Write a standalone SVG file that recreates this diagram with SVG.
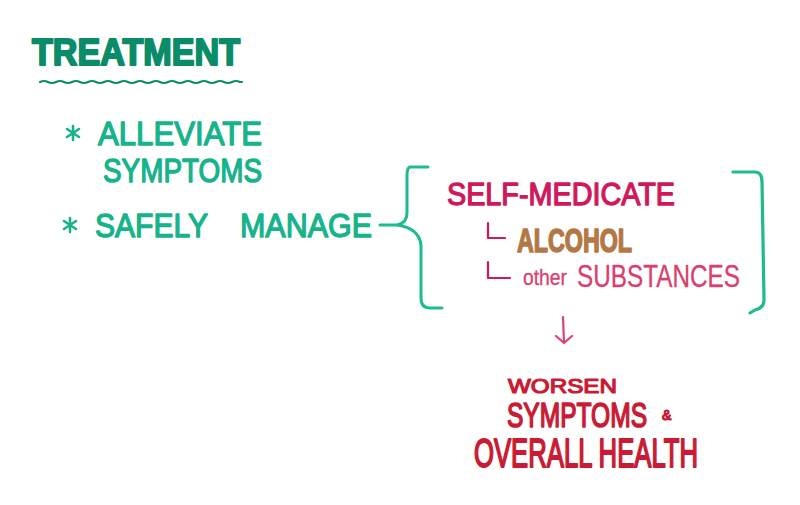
<svg xmlns="http://www.w3.org/2000/svg" width="800" height="505" viewBox="0 0 800 505">
<style>
text{font-family:"Liberation Sans","Arial",sans-serif;stroke-linejoin:round;}
.dg{fill:#0b8c68;stroke:#0b8c68;stroke-width:2;font-weight:700;}
.g{fill:#17b38b;stroke:#17b38b;stroke-width:1.4;}
.mag{fill:#d0185a;stroke:#d0185a;stroke-width:1.3;}
.br{fill:#b37846;stroke:#b37846;stroke-width:1.6;font-weight:700;}
.pk{fill:#d8406e;stroke:#d8406e;stroke-width:0.3;}
.red{fill:#c91c34;stroke:#c91c34;stroke-width:1.2;}
.ln{fill:none;stroke-linecap:round;stroke-linejoin:round;}
</style>
<rect width="800" height="505" fill="#ffffff"/>
<g id="title">
<text class="dg" x="32" y="65" font-size="37" textLength="208" lengthAdjust="spacingAndGlyphs">TREATMENT</text>
<path class="ln" stroke="#0b8c68" stroke-width="2.2" d="M40 82 q4 -2 8 0 t8 0 t8 0 t8 0 t8 0 t8 0 t8 0 t8 0 t8 0 t8 0 t8 0 t8 0 t8 0 t8 0 t8 0 t8 0 t8 0 t8 0 t8 0 t8 0 t8 0 t8 0 t8 0 t8 0 t8 0 h2"/>
</g>
<g id="alleviate">
<path class="ln" stroke="#17b38b" stroke-width="2.6" d="M73 126 v14 M67 129 l12 8 M67 137 l12 -8"/>
<text class="g" x="98" y="145" font-size="34" textLength="164" lengthAdjust="spacingAndGlyphs">ALLEVIATE</text>
<text class="g" x="103" y="182" font-size="33" textLength="159" lengthAdjust="spacingAndGlyphs">SYMPTOMS</text>
</g>
<g id="manage">
<path class="ln" stroke="#17b38b" stroke-width="2.6" d="M70 218 v14 M64 221 l12 8 M64 229 l12 -8"/>
<text class="g" x="95" y="237" font-size="34" textLength="113" lengthAdjust="spacingAndGlyphs">SAFELY</text>
<text class="g" x="240" y="237" font-size="34" textLength="132" lengthAdjust="spacingAndGlyphs">MANAGE</text>
</g>
<g id="connectors">
<path class="ln" stroke="#1dbb90" stroke-width="3" d="M380 225 H398 M428 167 H410 Q407 168 407 175 V213 Q407 223 397 225 Q419 228 421 245 V298 Q421 308 430 308 H442"/>
<path class="ln" stroke="#1dbb90" stroke-width="3.2" d="M733 172 H755 Q762 172 762 182 L764 300 Q764 308 755 310 L750 313"/>
<path class="ln" stroke="#e0407a" stroke-width="2.2" d="M563 317 L564 342 M556 336 L564 343 L572 336"/>
</g>
<g id="self-medicate">
<text class="mag" x="447" y="205" font-size="31" textLength="228" lengthAdjust="spacingAndGlyphs">SELF-MEDICATE</text>
<path class="ln" stroke="#d0185a" stroke-width="2.2" d="M488 223 V238 H505 M488 262 V278 H510"/>
</g>
<g id="alcohol">
<text class="br" x="517" y="252" font-size="33" textLength="115" lengthAdjust="spacingAndGlyphs">ALCOHOL</text>
</g>
<g id="substances">
<text class="pk" x="523" y="285" font-size="22" textLength="44" lengthAdjust="spacingAndGlyphs">other</text>
<text class="pk" x="577" y="287" font-size="31" textLength="163" lengthAdjust="spacingAndGlyphs">SUBSTANCES</text>
</g>
<g id="worsen">
<text class="red" x="508" y="393" font-size="21" textLength="109" lengthAdjust="spacingAndGlyphs">WORSEN</text>
<text class="red" transform="translate(507,427) scale(1,1.38)" x="0" y="0" font-size="25" stroke-width="1" textLength="140" lengthAdjust="spacingAndGlyphs">SYMPTOMS</text>
<text class="red" x="662" y="420" font-size="14" stroke-width="0.3">&amp;</text>
<text class="red" transform="translate(474,467) scale(1,1.6)" x="0" y="0" font-size="25" stroke-width="1" textLength="224" lengthAdjust="spacingAndGlyphs">OVERALL HEALTH</text>
</g>
</svg>
